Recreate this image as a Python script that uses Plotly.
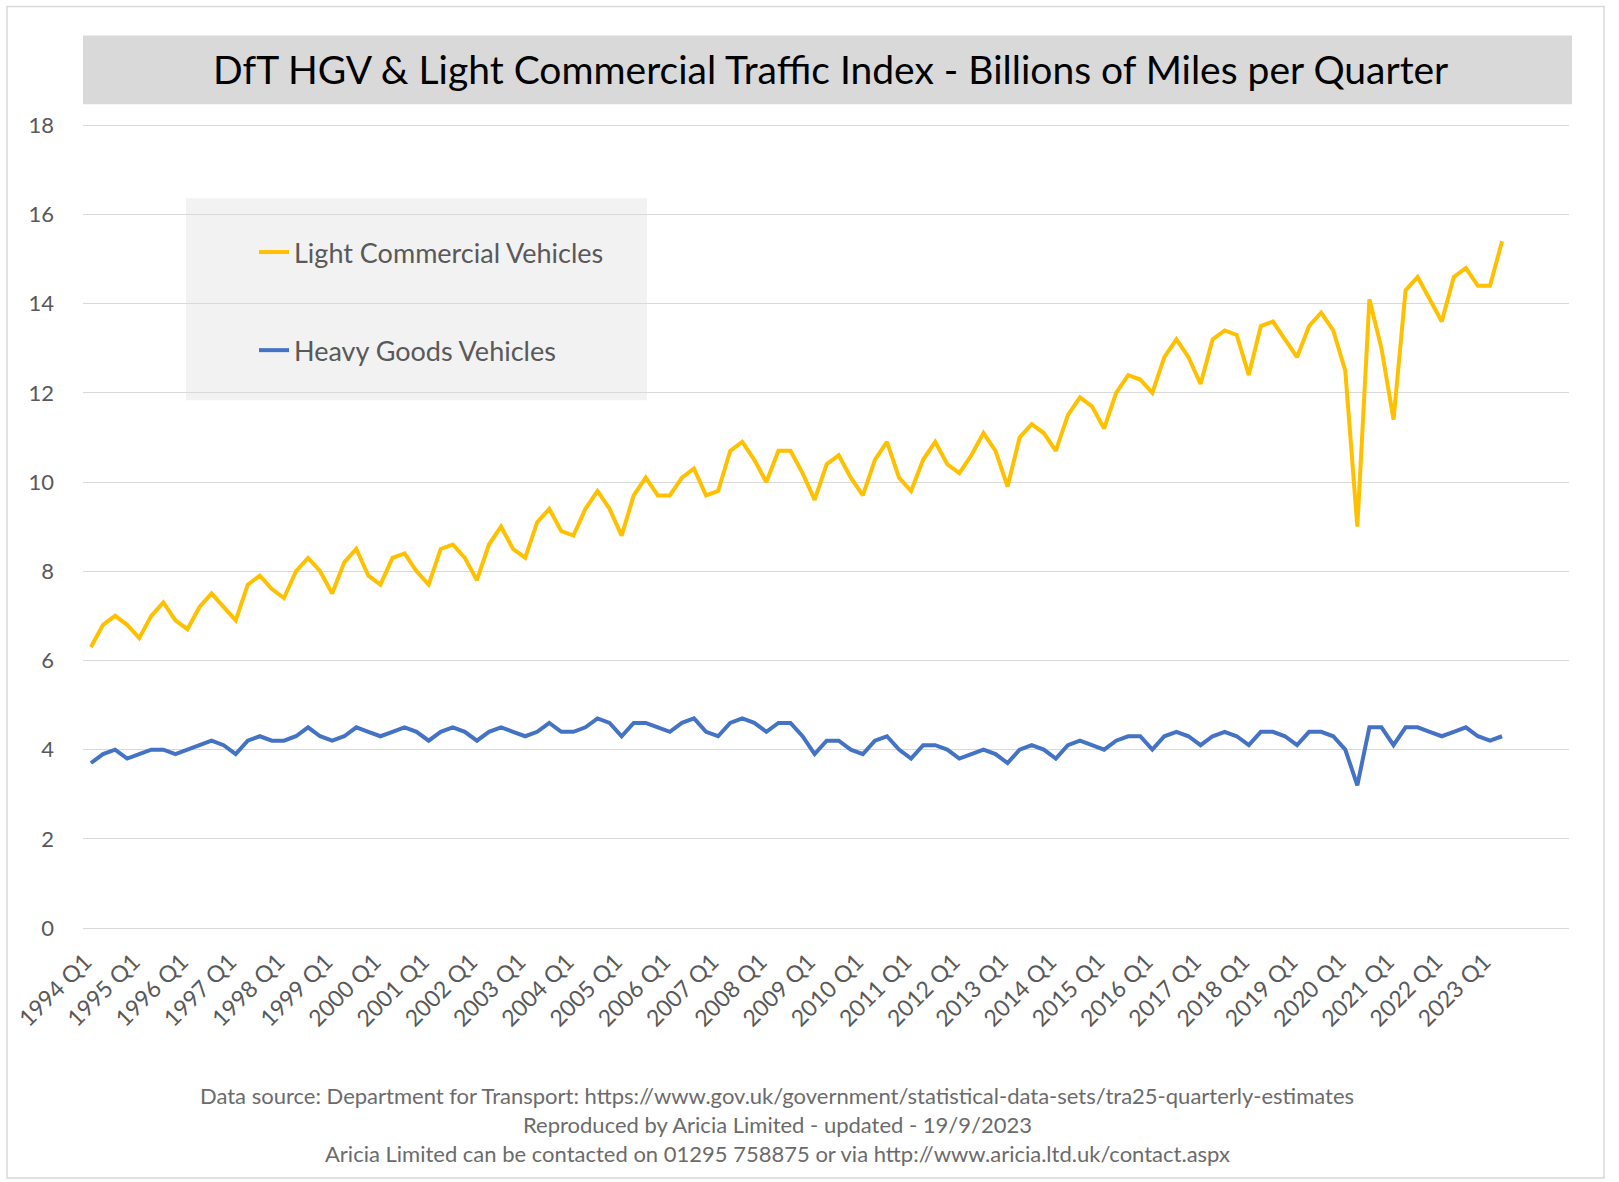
import plotly.graph_objects as go

# ---------------- data ----------------
years = list(range(1994, 2024))
quarter_names = ["Q1", "Q2", "Q3", "Q4"]
n_points = 118  # 1994 Q1 .. 2023 Q2
quarters = [f"{y} {q}" for y in years for q in quarter_names][:n_points]
q1_ticks = [f"{y} Q1" for y in years]

lcv = [
    6.3, 6.8, 7.0, 6.8, 6.5, 7.0, 7.3, 6.9, 6.7, 7.2, 7.5, 7.2,
    6.9, 7.7, 7.9, 7.6, 7.4, 8.0, 8.3, 8.0, 7.5, 8.2, 8.5, 7.9,
    7.7, 8.3, 8.4, 8.0, 7.7, 8.5, 8.6, 8.3, 7.8, 8.6, 9.0, 8.5,
    8.3, 9.1, 9.4, 8.9, 8.8, 9.4, 9.8, 9.4, 8.8, 9.7, 10.1, 9.7,
    9.7, 10.1, 10.3, 9.7, 9.8, 10.7, 10.9, 10.5, 10.0, 10.7, 10.7, 10.2,
    9.6, 10.4, 10.6, 10.1, 9.7, 10.5, 10.9, 10.1, 9.8, 10.5, 10.9, 10.4,
    10.2, 10.6, 11.1, 10.7, 9.9, 11.0, 11.3, 11.1, 10.7, 11.5, 11.9, 11.7,
    11.2, 12.0, 12.4, 12.3, 12.0, 12.8, 13.2, 12.8, 12.2, 13.2, 13.4, 13.3,
    12.4, 13.5, 13.6, 13.2, 12.8, 13.5, 13.8, 13.4, 12.5, 9.0, 14.1, 13.0,
    11.4, 14.3, 14.6, 14.1, 13.6, 14.6, 14.8, 14.4, 14.4, 15.4,
]
hgv = [
    3.7, 3.9, 4.0, 3.8, 3.9, 4.0, 4.0, 3.9, 4.0, 4.1, 4.2, 4.1,
    3.9, 4.2, 4.3, 4.2, 4.2, 4.3, 4.5, 4.3, 4.2, 4.3, 4.5, 4.4,
    4.3, 4.4, 4.5, 4.4, 4.2, 4.4, 4.5, 4.4, 4.2, 4.4, 4.5, 4.4,
    4.3, 4.4, 4.6, 4.4, 4.4, 4.5, 4.7, 4.6, 4.3, 4.6, 4.6, 4.5,
    4.4, 4.6, 4.7, 4.4, 4.3, 4.6, 4.7, 4.6, 4.4, 4.6, 4.6, 4.3,
    3.9, 4.2, 4.2, 4.0, 3.9, 4.2, 4.3, 4.0, 3.8, 4.1, 4.1, 4.0,
    3.8, 3.9, 4.0, 3.9, 3.7, 4.0, 4.1, 4.0, 3.8, 4.1, 4.2, 4.1,
    4.0, 4.2, 4.3, 4.3, 4.0, 4.3, 4.4, 4.3, 4.1, 4.3, 4.4, 4.3,
    4.1, 4.4, 4.4, 4.3, 4.1, 4.4, 4.4, 4.3, 4.0, 3.2, 4.5, 4.5,
    4.1, 4.5, 4.5, 4.4, 4.3, 4.4, 4.5, 4.3, 4.2, 4.3,
]
y_ticks = [0, 2, 4, 6, 8, 10, 12, 14, 16, 18]

title_text = "DfT HGV &amp; Light Commercial Traffic Index - Billions of Miles per Quarter"
footer_lines = [
    "Data source: Department for Transport: https://www.gov.uk/government/statistical-data-sets/tra25-quarterly-estimates",
    "Reproduced by Aricia Limited - updated - 19/9/2023",
    "Aricia Limited can be contacted on 01295 758875 or via http://www.aricia.ltd.uk/contact.aspx",
]

# ---------------- layout geometry ----------------
W, H = 1619, 1182
Y_TOP = 18.03          # a hair above 18 so the 18 gridline is drawn
PL, PR, PB = 83, 1569, 928
PT = PB - (PB - 125) * Y_TOP / 18
FONT = "Lato, 'Open Sans', sans-serif"


def px2x(px):
    return (px - PL) / (PR - PL)


def py2y(py):
    return (PB - py) / (PB - PT)


fig = go.Figure()
fig.add_trace(go.Scatter(
    x=quarters, y=lcv, mode="lines", name="Light Commercial Vehicles",
    line=dict(color="#FFC000", width=4), legendgroup="a",
))
fig.add_trace(go.Scatter(
    x=quarters, y=hgv, mode="lines", name="Heavy Goods Vehicles",
    line=dict(color="#4472C4", width=4), legendgroup="b",
))

shapes = [
    # outer chart border
    dict(type="rect", xref="paper", yref="paper",
         x0=px2x(7), x1=px2x(1604), y0=py2y(1178), y1=py2y(6),
         line=dict(color="#d9d9d9", width=1.5), fillcolor="rgba(0,0,0,0)", layer="below"),
    # title band
    dict(type="rect", xref="paper", yref="paper",
         x0=px2x(83), x1=px2x(1572), y0=py2y(104), y1=py2y(35),
         line=dict(width=0), fillcolor="#d9d9d9", layer="below"),
    # legend box
    dict(type="rect", xref="paper", yref="paper",
         x0=px2x(186), x1=px2x(647), y0=py2y(400), y1=py2y(198),
         line=dict(width=0), fillcolor="#f2f2f2", layer="between"),
]

annotations = [
    dict(text=title_text, xref="paper", yref="paper", x=px2x(830), y=py2y(69),
         xanchor="center", yanchor="middle", showarrow=False,
         font=dict(family=FONT, size=39, color="#000000")),
]
for txt, yy in zip(footer_lines, [1096, 1125, 1154]):
    annotations.append(dict(text=txt, xref="paper", yref="paper", x=px2x(777), y=py2y(yy),
                            xanchor="center", yanchor="middle", showarrow=False,
                            font=dict(family=FONT, size=22, color="#6b6b6b")))

fig.update_layout(
    width=W, height=H,
    margin=dict(l=PL, r=W - PR, t=PT, b=H - PB, autoexpand=False),
    paper_bgcolor="white", plot_bgcolor="white",
    font=dict(family=FONT, color="#595959"),
    shapes=shapes,
    annotations=annotations,
    showlegend=True,
    legend=dict(
        xref="container", yref="container",
        x=254 / W, y=1 - 228 / H, xanchor="left", yanchor="top",
        bgcolor="rgba(0,0,0,0)", borderwidth=0,
        font=dict(family=FONT, size=27, color="#595959"),
        tracegroupgap=60, traceorder="grouped", itemwidth=30,
    ),
    xaxis=dict(
        type="category", categoryorder="array", categoryarray=quarters,
        tickmode="array", tickvals=q1_ticks, ticktext=q1_ticks,
        tickangle=-45, range=[-0.66, 122.55],
        showgrid=False, zeroline=False, showline=False,
        ticks="", ticklabelstandoff=15, ticklabelshift=-6,
        tickfont=dict(family=FONT, size=23, color="#595959"),
    ),
    yaxis=dict(
        range=[0, Y_TOP], tickmode="array", tickvals=y_ticks,
        showgrid=True, gridcolor="#d9d9d9", gridwidth=1.3,
        zeroline=True, zerolinecolor="#d9d9d9", zerolinewidth=1.3,
        showline=False, ticks="", ticklabelstandoff=28,
        tickfont=dict(family=FONT, size=22, color="#595959"),
    ),
)

fig.write_html("out.html", config={"displayModeBar": False},
               post_script="document.body.style.margin='0px';")
